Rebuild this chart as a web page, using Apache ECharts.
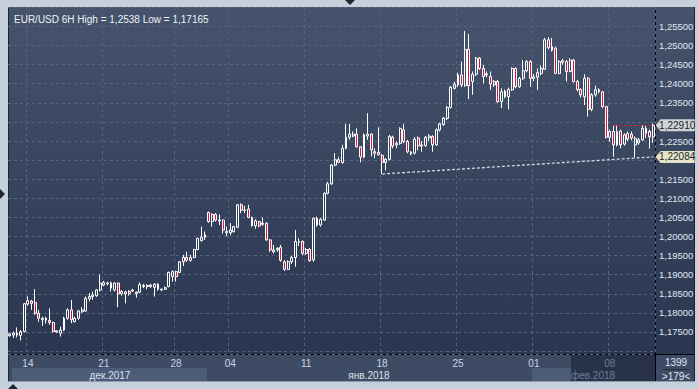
<!DOCTYPE html>
<html><head><meta charset="utf-8">
<script src="https://cdn.jsdelivr.net/npm/echarts/dist/echarts.min.js"></script>
<style>html,body{margin:0;padding:0;background:#c6d0dc;}#c{width:698px;height:389px;}</style>
</head><body><div id="c"></div>
<script>
// EUR/USD 6H candles
const openP = [
1.1740,1.1742,1.1747,1.1741,1.1751,1.1823,1.1831,1.1827,1.1799,1.1782,
1.1786,1.1780,1.1775,1.1750,1.1747,1.1755,1.1786,1.1808,1.1777,1.1786,
1.1803,1.1805,1.1837,1.1843,1.1845,1.1860,1.1873,1.1878,1.1879,1.1860,
1.1878,1.1850,1.1855,1.1856,1.1857,1.1850,1.1854,1.1869,1.1872,1.1869,
1.1867,1.1875,1.1862,1.1862,1.1869,1.1895,1.1908,1.1906,1.1934,1.1945,
1.1938,1.1945,1.1966,1.1989,1.1998,1.2063,1.2039,1.2058,1.2043,1.2043,
1.2013,1.2010,1.2013,1.2024,1.2083,1.2069,1.2072,1.2050,1.2028,1.2039,
1.2032,1.2035,1.1991,1.1965,1.1965,1.1972,1.1934,1.1914,1.1934,1.1945,
1.1987,1.1987,1.1956,1.1966,1.1939,1.2048,1.2030,1.2043,1.2113,1.2138,
1.2187,1.2201,1.2194,1.2231,1.2260,1.2263,1.2268,1.2235,1.2208,1.2263,
1.2268,1.2222,1.2220,1.2212,1.2194,1.2202,1.2260,1.2240,1.2244,1.2279,
1.2249,1.2221,1.2218,1.2258,1.2237,1.2238,1.2258,1.2262,1.2240,1.2279,
1.2293,1.2309,1.2338,1.2388,1.2397,1.2423,1.2395,1.2490,1.2406,1.2425,
1.2467,1.2440,1.2426,1.2419,1.2397,1.2406,1.2353,1.2381,1.2366,1.2384,
1.2440,1.2392,1.2414,1.2434,1.2458,1.2414,1.2417,1.2427,1.2438,1.2515,
1.2488,1.2493,1.2427,1.2460,1.2458,1.2432,1.2462,1.2406,1.2385,1.2366,
1.2414,1.2333,1.2371,1.2384,1.2379,1.2340,1.2260,1.2275,1.2240,1.2276,
1.2242,1.2270,1.2268,1.2240,1.2245,1.2253,1.2283,1.2275,1.2261];
const closeP = [
1.1745,1.1747,1.1742,1.1751,1.1824,1.1832,1.1825,1.1799,1.1786,1.1786,
1.1781,1.1775,1.1751,1.1753,1.1755,1.1786,1.1808,1.1782,1.1786,1.1805,
1.1808,1.1838,1.1843,1.1847,1.1860,1.1878,1.1880,1.1876,1.1865,1.1878,
1.1850,1.1856,1.1850,1.1850,1.1860,1.1854,1.1874,1.1872,1.1869,1.1873,
1.1875,1.1862,1.1860,1.1866,1.1906,1.1908,1.1895,1.1934,1.1945,1.1938,
1.1945,1.1966,1.1995,1.1998,1.2004,1.2039,1.2058,1.2043,1.2041,1.2017,
1.2010,1.2017,1.2026,1.2083,1.2069,1.2068,1.2050,1.2028,1.2041,1.2028,
1.2035,1.1991,1.1965,1.1960,1.1969,1.1938,1.1914,1.1934,1.1945,1.1987,
1.1985,1.1956,1.1966,1.1937,1.2048,1.2030,1.2045,1.2113,1.2138,1.2187,
1.2201,1.2194,1.2231,1.2260,1.2268,1.2268,1.2235,1.2208,1.2266,1.2268,
1.2227,1.2218,1.2214,1.2194,1.2202,1.2262,1.2237,1.2244,1.2283,1.2249,
1.2222,1.2216,1.2255,1.2237,1.2240,1.2260,1.2263,1.2240,1.2279,1.2295,
1.2310,1.2338,1.2391,1.2399,1.2423,1.2397,1.2490,1.2395,1.2425,1.2467,
1.2440,1.2419,1.2423,1.2399,1.2406,1.2353,1.2379,1.2366,1.2385,1.2440,
1.2392,1.2414,1.2434,1.2458,1.2414,1.2418,1.2429,1.2440,1.2515,1.2495,
1.2497,1.2427,1.2458,1.2456,1.2432,1.2462,1.2406,1.2385,1.2371,1.2414,
1.2333,1.2371,1.2384,1.2379,1.2340,1.2260,1.2275,1.2240,1.2275,1.2240,
1.2266,1.2255,1.2258,1.2257,1.2253,1.2283,1.2270,1.2261,1.2291];
const lowP = [
1.1738,1.1734,1.1736,1.1728,1.1749,1.1819,1.1808,1.1795,1.1777,1.1766,
1.1772,1.1769,1.1749,1.1747,1.1738,1.1753,1.1782,1.1773,1.1775,1.1782,
1.1800,1.1803,1.1830,1.1834,1.1842,1.1856,1.1870,1.1872,1.1856,1.1856,
1.1815,1.1845,1.1825,1.1845,1.1855,1.1840,1.1852,1.1865,1.1862,1.1866,
1.1843,1.1858,1.1857,1.1860,1.1867,1.1882,1.1882,1.1904,1.1923,1.1934,
1.1934,1.1943,1.1964,1.1987,1.1991,1.2036,1.2026,1.2039,1.2030,1.2008,
1.2001,1.2004,1.2010,1.2022,1.2061,1.2061,1.2048,1.2026,1.2020,1.2024,
1.2028,1.1989,1.1960,1.1956,1.1960,1.1934,1.1910,1.1912,1.1928,1.1921,
1.1975,1.1952,1.1952,1.1934,1.1934,1.2026,1.2026,1.2041,1.2110,1.2135,
1.2184,1.2192,1.2190,1.2228,1.2253,1.2260,1.2233,1.2194,1.2205,1.2253,
1.2210,1.2205,1.2212,1.21636,1.2173,1.2199,1.2231,1.2231,1.2240,1.2244,
1.2218,1.2213,1.2215,1.2226,1.2222,1.2235,1.2250,1.2222,1.2237,1.2275,
1.2290,1.2305,1.2335,1.2385,1.2392,1.2391,1.2392,1.2360,1.2371,1.2420,
1.2436,1.2401,1.2417,1.2384,1.2392,1.2350,1.2336,1.2362,1.2333,1.2381,
1.2388,1.2389,1.2410,1.2430,1.2392,1.2407,1.2384,1.2422,1.2436,1.2490,
1.2484,1.2425,1.2425,1.2450,1.2406,1.2430,1.2403,1.2380,1.2364,1.2344,
1.2314,1.2328,1.2366,1.2375,1.2336,1.2257,1.2248,1.2209,1.2236,1.2231,
1.2238,1.2250,1.2252,1.2207,1.2240,1.2250,1.2258,1.2230,1.2245];
const highP = [
1.1747,1.1751,1.1762,1.1755,1.1826,1.1843,1.1834,1.1862,1.1808,1.1790,
1.1790,1.1812,1.1777,1.1755,1.1764,1.1790,1.1812,1.1834,1.1790,1.1808,
1.1815,1.1843,1.1852,1.1856,1.1862,1.1900,1.1884,1.1882,1.1882,1.1880,
1.1880,1.1860,1.1858,1.1860,1.1863,1.1856,1.1880,1.1876,1.1875,1.1876,
1.1878,1.1878,1.1864,1.1869,1.1908,1.1911,1.1911,1.1936,1.1952,1.1960,
1.1952,1.1968,1.1997,1.2026,1.2013,1.2065,1.2061,1.2061,1.2058,1.2045,
1.2026,1.2035,1.2028,1.2085,1.2087,1.2080,1.2083,1.2052,1.2045,1.2041,
1.2050,1.2037,1.1993,1.1978,1.1972,1.1978,1.1938,1.1938,1.1949,1.2017,
1.1995,1.1990,1.1970,1.1970,1.2050,1.2052,1.2048,1.2116,1.2143,1.2190,
1.2218,1.2208,1.2240,1.2295,1.2295,1.2275,1.2283,1.2237,1.2270,1.2323,
1.2270,1.2231,1.2286,1.2216,1.2205,1.2266,1.2264,1.2249,1.2286,1.2295,
1.2253,1.2224,1.2260,1.2262,1.2250,1.2263,1.2268,1.2265,1.2283,1.2298,
1.2313,1.2342,1.2394,1.2405,1.2429,1.2458,1.2538,1.2530,1.2432,1.2470,
1.2470,1.2449,1.2432,1.2432,1.2410,1.2410,1.2388,1.2385,1.2390,1.2443,
1.2443,1.2418,1.2462,1.2462,1.2462,1.2425,1.2440,1.2448,1.2520,1.2522,
1.2520,1.2497,1.2462,1.2465,1.2462,1.2467,1.2465,1.2410,1.2388,1.2425,
1.2418,1.2375,1.2395,1.2388,1.2381,1.2342,1.2280,1.2291,1.2291,1.2280,
1.2270,1.2275,1.2275,1.2262,1.2258,1.2291,1.2291,1.2280,1.2296];

const tickIndex  = [5, 26, 46, 61, 82, 103, 124, 145, 166];
const tickLabels = ['14','21','28','04','11','18','25','01','08'];
const monthLabels = ['дек.2017', 'янв.2018', 'фев.2018'];
const lastPrice = 1.2291;
const resistStartIndex = 167;
const supportStart = [103, 1.21636];
const supportEnd = [178, 1.22084];
const titleText = 'EUR/USD 6H High = 1,2538 Low = 1,17165';
const barsTotal = '1399';
const barsVisible = '>179<';

const categories = openP.map((_, i) => String(i));
const candles = openP.map((o, i) => [o, closeP[i], lowP[i], highP[i]]);
const fmt = v => v.toFixed(5).replace('.', ',');
const isTick = i => tickIndex.indexOf(i) >= 0;
const FONT = '"Liberation Sans", Arial, sans-serif';
const lastIdx = openP.length - 1;
const nearTag = v => Math.abs(v - lastPrice) < 0.0022 || Math.abs(v - supportEnd[1]) < 0.0022;

const chart = echarts.init(document.getElementById('c'), null, {renderer: 'svg'});
const gridLine = {color: '#56647e', type: [3, 3], width: 1};

chart.setOption({
  animation: false,
  backgroundColor: '#c6d0dc',
  title: {text: titleText, left: 9, top: 9, textStyle: {color: '#eef1f6', fontSize: 10, fontWeight: 'normal', fontFamily: FONT}},
  grid: {left: 8, right: 43, top: 7, bottom: 35, containLabel: false},
  xAxis: {
    type: 'category', data: categories, boundaryGap: true,
    axisLine: {show: false}, axisTick: {show: false},
    axisLabel: {
      interval: (i) => isTick(i), margin: 4, fontSize: 10, fontFamily: FONT,
      formatter: (v) => tickLabels[tickIndex.indexOf(+v)] || '',
      color: (v) => (+v === tickIndex[tickIndex.length - 1] ? '#6c7a92' : '#c9d4e6')
    },
    splitLine: {show: true, interval: (i) => isTick(i), lineStyle: gridLine}
  },
  yAxis: {
    type: 'value', position: 'right', scale: true, min: 1.16924, max: 1.26009, splitNumber: 18,
    axisLine: {show: false}, axisTick: {show: false},
    axisLabel: {
      color: '#e0e7f1', fontSize: 9.5, fontFamily: FONT, margin: 4, showMinLabel: false, showMaxLabel: false,
      formatter: (v) => (v < 1.1725 || v > 1.2575 || nearTag(v)) ? '' : fmt(v)
    },
    splitLine: {show: true, lineStyle: gridLine}
  },
  series: [{
    type: 'candlestick', data: candles, barWidth: 2.4,
    itemStyle: {color: 'rgba(0,0,0,0)', color0: '#dc143c', borderColor: '#ffffff', borderColor0: '#ffffff', borderColorDoji: '#ffffff', borderWidth: 1},
    markLine: {
      silent: true, symbol: ['none', 'none'], label: {show: false},
      data: [
        [{coord: [resistStartIndex, lastPrice], lineStyle: {color: '#d42232', type: [3, 2], width: 1}}, {coord: [lastIdx, lastPrice]}],
        [{coord: supportStart, lineStyle: {color: '#d3d7de', type: [3, 2], width: 1.3}}, {coord: supportEnd}]
      ]
    },
    markPoint: {
      silent: true,
      data: [
        {coord: [lastIdx, lastPrice], symbol: 'path://M0,6 L5,0 L40,0 L40,12 L5,12 Z', symbolSize: [39, 12], symbolOffset: [22, 0],
         itemStyle: {color: '#cfd3d9'}, label: {show: true, position: 'inside', offset: [2, 0], formatter: fmt(lastPrice), color: '#1b1f27', fontSize: 10, fontFamily: FONT}},
        {coord: supportEnd, symbol: 'path://M0,6 L5,0 L40,0 L40,12 L5,12 Z', symbolSize: [39, 12], symbolOffset: [22, 0],
         itemStyle: {color: '#e6e5c9'}, label: {show: true, position: 'inside', offset: [2, 0], formatter: fmt(supportEnd[1]), color: '#1b1f27', fontSize: 10, fontFamily: FONT}}
      ]
    }
  }],
  graphic: [
    {type: 'rect', z: -10, silent: true, shape: {x: 8, y: 7, width: 687, height: 347},
     style: {fill: new echarts.graphic.LinearGradient(0, 0, 0, 1, [{offset: 0, color: '#45536c'}, {offset: 1, color: '#2b3651'}])}},
    {type: 'rect', z: -10, silent: true, shape: {x: 8, y: 354, width: 687, height: 28}, style: {fill: '#3e4b64'}},
    {type: 'rect', z: -9, silent: true, shape: {x: 12, y: 368, width: 195, height: 13}, style: {fill: '#4c5b77'}},
    {type: 'rect', z: -9, silent: true, shape: {x: 532, y: 368, width: 39, height: 13}, style: {fill: '#4c5b77'}},
    {type: 'rect', z: -9, silent: true, shape: {x: 571, y: 355, width: 84, height: 26}, style: {fill: '#28334a'}},
    {type: 'line', silent: true, shape: {x1: 655.5, y1: 7, x2: 655.5, y2: 382}, style: {stroke: '#000000', lineWidth: 1}},
    {type: 'line', silent: true, shape: {x1: 8, y1: 354.5, x2: 695, y2: 354.5}, style: {stroke: '#000000', lineWidth: 1}},
    {type: 'line', silent: true, shape: {x1: 8.5, y1: 7, x2: 8.5, y2: 382}, style: {stroke: '#1c2433', lineWidth: 1}},
    {type: 'line', silent: true, shape: {x1: 694.5, y1: 7, x2: 694.5, y2: 382}, style: {stroke: '#1c2433', lineWidth: 1}},
    {type: 'line', silent: true, shape: {x1: 8, y1: 381.5, x2: 695, y2: 381.5}, style: {stroke: '#8e9aae', lineWidth: 1}},
    {type: 'line', silent: true, shape: {x1: 663, y1: 369.5, x2: 689, y2: 369.5}, style: {stroke: '#222a3a', lineWidth: 1}},
    {type: 'polygon', silent: true, shape: {points: [[345, 0], [355, 0], [350, 5]]}, style: {fill: '#1e2430'}},
    {type: 'polygon', silent: true, shape: {points: [[0, 189], [0, 199], [5, 194]]}, style: {fill: '#1e2430'}},
    {type: 'polygon', silent: true, shape: {points: [[8, 389], [18, 389], [13, 384]]}, style: {fill: '#1e2430'}},
    {type: 'text', silent: true, x: 110, y: 375, style: {text: monthLabels[0], fill: '#dbe2ed', font: '10px ' + FONT, textAlign: 'center', textVerticalAlign: 'middle'}},
    {type: 'text', silent: true, x: 369, y: 375, style: {text: monthLabels[1], fill: '#dbe2ed', font: '10px ' + FONT, textAlign: 'center', textVerticalAlign: 'middle'}},
    {type: 'text', silent: true, x: 593, y: 375, style: {text: monthLabels[2], fill: '#6c7a92', font: '10px ' + FONT, textAlign: 'center', textVerticalAlign: 'middle'}},
    {type: 'text', silent: true, x: 676, y: 362, style: {text: barsTotal, fill: '#e0e7f1', font: '10px ' + FONT, textAlign: 'center', textVerticalAlign: 'middle'}},
    {type: 'text', silent: true, x: 676, y: 376, style: {text: barsVisible, fill: '#e0e7f1', font: '10px ' + FONT, textAlign: 'center', textVerticalAlign: 'middle'}}
  ]
});
</script></body></html>
